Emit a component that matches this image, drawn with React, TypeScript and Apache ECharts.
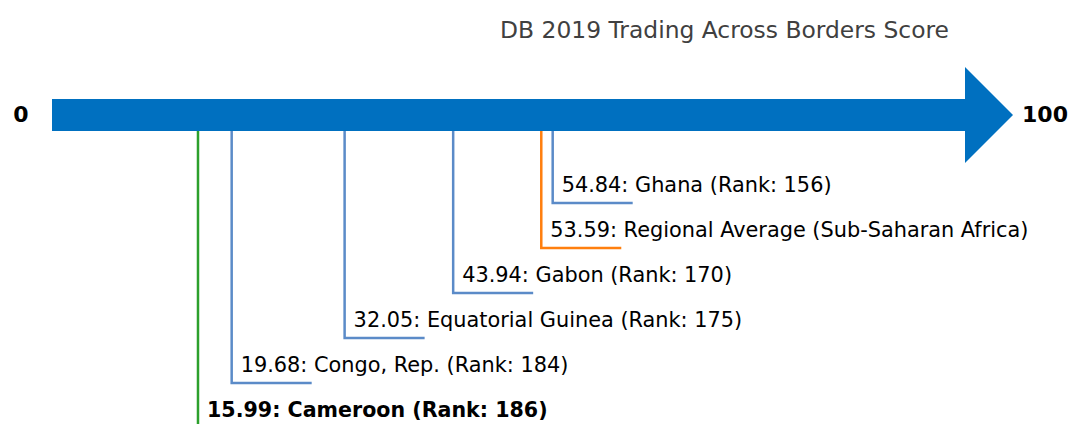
import React, { useEffect, useRef } from "react";
import * as echarts from "echarts";

const TITLE = "DB 2019 Trading Across Borders Score";
const AXIS_MIN = 0;
const AXIS_MAX = 100;
const AXIS_LABELS = ["0", "100"];

// ordered from top label row to bottom label row
const names = [
  "Ghana (Rank: 156)",
  "Regional Average (Sub-Saharan Africa)",
  "Gabon (Rank: 170)",
  "Equatorial Guinea (Rank: 175)",
  "Congo, Rep. (Rank: 184)",
  "Cameroon (Rank: 186)",
];
const scores = [54.84, 53.59, 43.94, 32.05, 19.68, 15.99];
const kinds = ["peer", "average", "peer", "peer", "peer", "focus"];

const KIND_COLOR: Record<string, string> = {
  peer: "#5b8bc8",
  average: "#ff7f0e",
  focus: "#2ca02c",
};

const FONT = "DejaVu Sans";
const BAR_LEVEL = -1.9556; // row position of the arrow (in label-row units)

export default function App() {
  const ref = useRef<HTMLDivElement>(null);
  useEffect(() => {
    document.body.style.margin = "0";
    const chart = echarts.init(ref.current!, null, { renderer: "svg" });
    const option: any = {
      animation: false,
      grid: { left: 52, right: 110, top: 0, bottom: 0 },
      xAxis: { type: "value", min: AXIS_MIN, max: AXIS_MAX, show: false },
      yAxis: { type: "value", inverse: true, min: -4.5111, max: 4.9111, show: false },
      graphic: [
        {
          type: "text",
          x: 724.5,
          y: 30,
          style: {
            text: TITLE,
            fontSize: 23.4,
            fontFamily: FONT,
            fill: "#404040",
            align: "center",
            verticalAlign: "middle",
          },
        },
      ],
      series: [
        {
          type: "custom",
          coordinateSystem: "cartesian2d",
          clip: false,
          data: [[AXIS_MIN, AXIS_MAX]],
          renderItem: (params: any, api: any) => {
            const l = api.coord([api.value(0), BAR_LEVEL]);
            const r = api.coord([api.value(1), BAR_LEVEL]);
            const cy = l[1];
            const hb = 16;
            const hh = 48;
            return {
              type: "group",
              children: [
                {
                  type: "polygon",
                  shape: {
                    points: [
                      [l[0], cy - hb],
                      [r[0], cy - hb],
                      [r[0], cy - hh],
                      [r[0] + 48, cy],
                      [r[0], cy + hh],
                      [r[0], cy + hb],
                      [l[0], cy + hb],
                    ],
                  },
                  style: { fill: "#0070c0" },
                },
                {
                  type: "text",
                  x: l[0] - 31,
                  y: cy,
                  style: {
                    text: AXIS_LABELS[0],
                    fontSize: 22,
                    fontWeight: "bold",
                    fontFamily: FONT,
                    fill: "#000",
                    align: "center",
                    verticalAlign: "middle",
                  },
                },
                {
                  type: "text",
                  x: r[0] + 80,
                  y: cy,
                  style: {
                    text: AXIS_LABELS[1],
                    fontSize: 22,
                    fontWeight: "bold",
                    fontFamily: FONT,
                    fill: "#000",
                    align: "center",
                    verticalAlign: "middle",
                  },
                },
              ],
            };
          },
        },
        {
          type: "custom",
          coordinateSystem: "cartesian2d",
          clip: false,
          data: scores.map((s, i) => [s, i]),
          renderItem: (params: any, api: any) => {
            const i = params.dataIndex;
            const s = api.value(0);
            const p = api.coord([s, api.value(1)]);
            const bar = api.coord([s, BAR_LEVEL]);
            const topY = bar[1] + 16;
            const kind = kinds[i];
            const color = KIND_COLOR[kind];
            return {
              type: "group",
              children: [
                {
                  type: "polyline",
                  shape: {
                    points: [
                      [p[0], topY],
                      [p[0], p[1]],
                      [p[0] + 80, p[1]],
                    ],
                  },
                  style: { stroke: color, lineWidth: 2.5, fill: "none" },
                },
                {
                  type: "text",
                  x: p[0] + 9,
                  y: p[1] - 18,
                  style: {
                    text: `${s.toFixed(2)}: ${names[i]}`,
                    fontSize: kind === "focus" ? 20.6 : 20.85,
                    fontFamily: FONT,
                    fontWeight: kind === "focus" ? "bold" : "normal",
                    fill: "#000",
                    align: "left",
                    verticalAlign: "middle",
                  },
                },
              ],
            };
          },
        },
      ],
    };
    chart.setOption(option);
    return () => chart.dispose();
  }, []);
  return <div ref={ref} style={{ width: 1075, height: 424 }} />;
}
